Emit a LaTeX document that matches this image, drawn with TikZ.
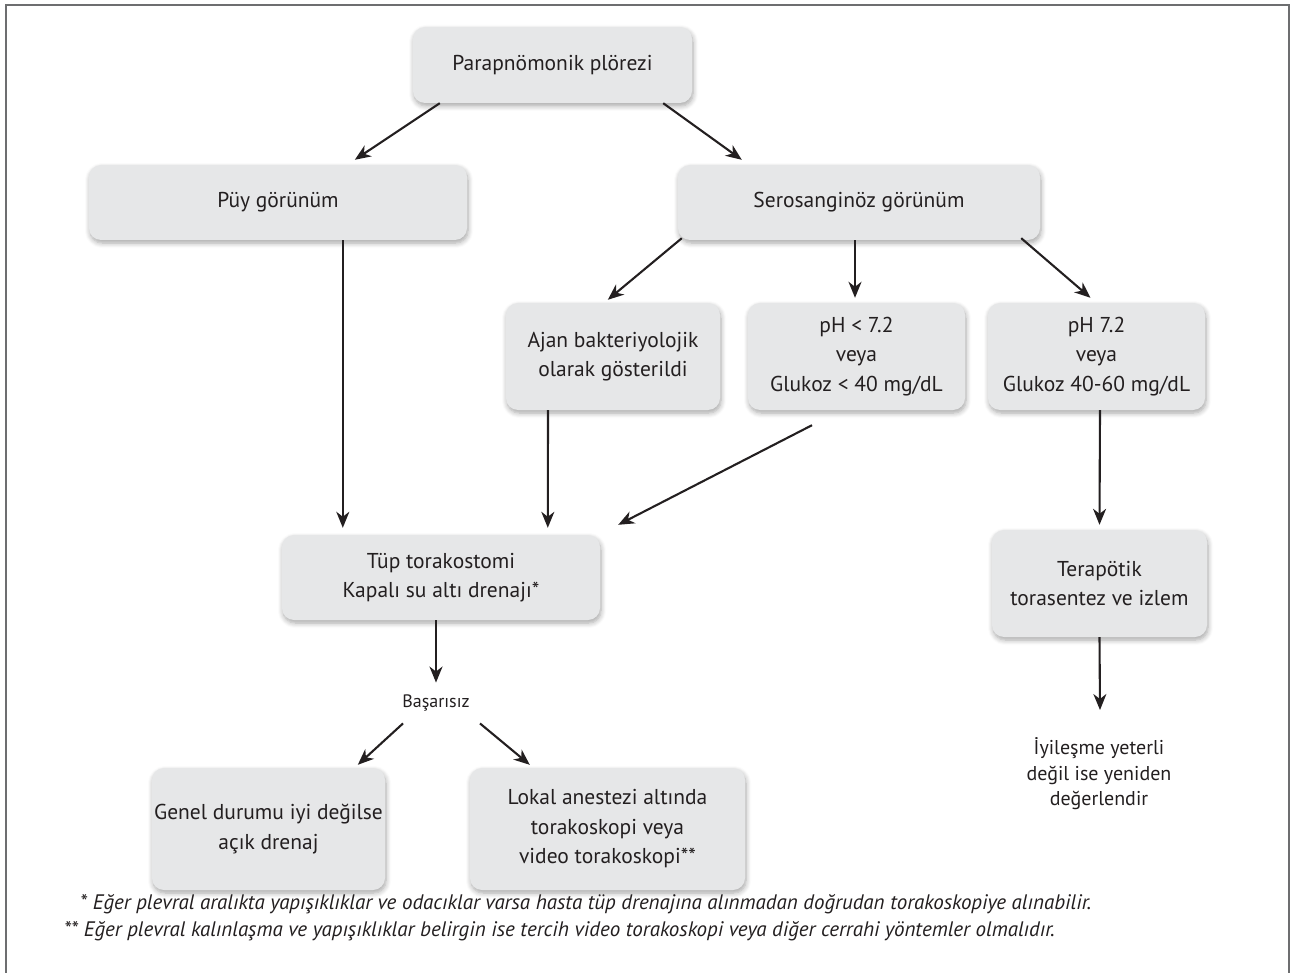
\documentclass[tikz,border=0pt]{standalone}
\usepackage{fontspec}
\setmainfont{PT Sans}
\usetikzlibrary{arrows.meta,shadows.blur}
\definecolor{boxfill}{HTML}{E6E7E8}
\definecolor{ink}{HTML}{231F20}
\definecolor{framec}{HTML}{6D6E70}
\tikzset{
  fbox/.style={rectangle, rounded corners=12pt, fill=boxfill, draw=none, text=ink,
    align=center, font=\fontsize{21.5}{29.5}\selectfont, inner sep=0pt,
    blur shadow={shadow blur steps=6, shadow xshift=1pt, shadow yshift=-3pt, shadow opacity=35, shadow blur radius=5pt}},
  plain/.style={text=ink, align=center, inner sep=0pt},
  arr/.style={draw=ink, line width=2.1pt, -{Stealth[length=16pt,width=13pt,inset=5pt]}},
}
\begin{document}
\begin{tikzpicture}[x=1pt,y=-1pt]
\useasboundingbox (0,0) rectangle (1290,973);
\draw[framec, line width=2pt] (6,980) -- (6,5) -- (1289,5) -- (1289,980);

\node[fbox, minimum width=279pt, minimum height=76pt] (parap) at (552.5,65) {Parapnömonik plörezi};
\node[fbox, minimum width=378pt, minimum height=75pt] (puy) at (278,202.5) {Püy görünüm};
\node[fbox, minimum width=362pt, minimum height=75pt] (sero) at (859,202.5) {Serosanginöz görünüm};
\node[fbox, minimum width=214pt, minimum height=107pt] (ajan) at (613,356.5) {Ajan bakteriyolojik\\olarak gösterildi};
\node[fbox, minimum width=217pt, minimum height=107pt] (ph1) at (856.5,356.5) {pH < 7.2\\veya\\Glukoz < 40 mg/dL};
\node[fbox, minimum width=217pt, minimum height=107pt] (ph2) at (1096.5,356.5) {pH 7.2\\veya\\Glukoz 40-60 mg/dL};
\node[fbox, minimum width=318pt, minimum height=85pt] (tup) at (441,577.5) {Tüp torakostomi\\Kapalı su altı drenajı*};
\node[fbox, minimum width=215pt, minimum height=107pt] (terap) at (1099.5,583.5) {Terapötik\\torasentez ve izlem};
\node[plain, font=\fontsize{18}{20}\selectfont] (bas) at (436,703) {Başarısız};
\node[fbox, minimum width=233pt, minimum height=122pt] (genel) at (268.5,829) {Genel durumu iyi değilse\\açık drenaj};
\node[fbox, minimum width=275pt, minimum height=122pt] (lokal) at (607.5,829) {Lokal anestezi altında\\torakoskopi veya\\video torakoskopi**};
\node[plain, font=\fontsize{20}{25.5}\selectfont] (iyi) at (1099,774) {İyileşme yeterli\\değil ise yeniden\\değerlendir};
\coordinate (iyitop) at (1100,710);

\node[plain, anchor=west, font=\itshape\fontsize{21}{24}\selectfont] (fn1) at (80,904) {* Eğer plevral aralıkta yapışıklıklar ve odacıklar varsa hasta tüp drenajına alınmadan doğrudan torakoskopiye alınabilir.};
\node[plain, anchor=west, font=\itshape\fontsize{21}{24}\selectfont] (fn2) at (64,931) {** Eğer plevral kalınlaşma ve yapışıklıklar belirgin ise tercih video torakoskopi veya diğer cerrahi yöntemler olmalıdır.};

\draw[arr] ([xshift=27pt]parap.south west) -- ([xshift=266pt,yshift=5pt]puy.north west);
\draw[arr] ([xshift=-29pt]parap.south east) -- ([xshift=64pt,yshift=5pt]sero.north west);
\draw[arr] ([xshift=254pt]puy.south west) -- ([xshift=61pt,yshift=7pt]tup.north west);
\draw[arr] ([xshift=4pt,yshift=2pt]sero.south west) -- ([xshift=102pt,yshift=3pt]ajan.north west);
\draw[arr] ([xshift=-4pt]sero.south) -- ([xshift=-1.5pt,yshift=5pt]ph1.north);
\draw[arr] ([xshift=-19pt,yshift=2pt]sero.south east) -- ([xshift=-6pt,yshift=5pt]ph2.north);
\draw[arr] ([xshift=-65pt]ajan.south) -- ([xshift=266pt,yshift=7pt]tup.north west);
\draw[arr] ([xshift=-44.5pt,yshift=-15pt]ph1.south) -- ([xshift=18pt,yshift=10pt]tup.north east);
\draw[arr] ([xshift=0.5pt]ph2.south -| terap.north) -- ([yshift=5pt]terap.north);
\draw[arr] (terap.south) -- (iyitop);
\draw[arr] ([xshift=-5pt]tup.south) -- ([yshift=12pt]bas.north);
\draw[arr] ([xshift=-33pt,yshift=-12pt]bas.south) -- ([xshift=206pt,yshift=3pt]genel.north west);
\draw[arr] ([xshift=44pt,yshift=-12pt]bas.south) -- ([xshift=60pt,yshift=3pt]lokal.north west);
\end{tikzpicture}
\end{document}
